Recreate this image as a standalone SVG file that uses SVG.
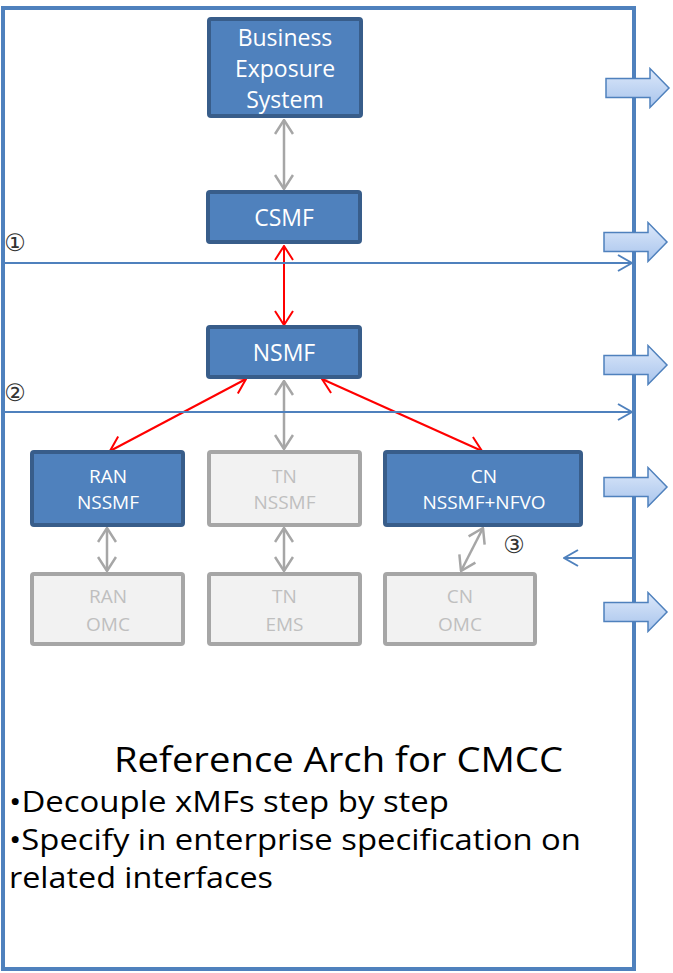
<svg xmlns="http://www.w3.org/2000/svg" width="673" height="973" viewBox="0 0 673 973">
<defs>
<style>
.blue{fill:#4f81bd;stroke:#385d8a;stroke-width:4}
.gray{fill:#f2f2f2;stroke:#a6a6a6;stroke-width:4}
.tw{fill:#ffffff;font-family:"Open Sans","Noto Sans",sans-serif;text-anchor:middle}
.tg{fill:#bfbfbf;font-family:"Open Sans","Noto Sans",sans-serif;text-anchor:middle}
.red{stroke:#ff0000;stroke-width:2;fill:none}
.gl{stroke:#a6a6a6;stroke-width:2.5;fill:none}
.bl{stroke:#4f81bd;stroke-width:2;fill:none}
.bt{fill:#000;font-family:"Open Sans","Noto Sans",sans-serif}
.num{fill:#333;font-family:"DejaVu Sans",sans-serif;font-size:24px;text-anchor:middle}
.barrow{fill:url(#bg);stroke:#4f81bd;stroke-width:1.5}
</style>
<linearGradient id="bg" x1="0" y1="0" x2="0" y2="1">
<stop offset="0" stop-color="#dce8fa"/>
<stop offset="1" stop-color="#a8c4ec"/>
</linearGradient>
<marker id="mr" viewBox="0 0 16 20" refX="15" refY="10" markerWidth="16" markerHeight="20" markerUnits="userSpaceOnUse" orient="auto-start-reverse">
<path d="M1,1 L15,10 L1,19" fill="none" stroke="#ff0000" stroke-width="2"/>
</marker>
<marker id="mg" viewBox="0 0 16 20" refX="15" refY="10" markerWidth="16" markerHeight="20" markerUnits="userSpaceOnUse" orient="auto-start-reverse">
<path d="M1,1 L15,10 L1,19" fill="none" stroke="#a6a6a6" stroke-width="2.5"/>
</marker>
<marker id="mb" viewBox="0 0 16 20" refX="15" refY="10" markerWidth="16" markerHeight="20" markerUnits="userSpaceOnUse" orient="auto">
<path d="M1,2 L15,10 L1,18" fill="none" stroke="#4f81bd" stroke-width="2"/>
</marker>
<path id="ba" d="M0,-9.5 L44,-9.5 L44,-19.5 L63,0 L44,19.5 L44,9.5 L0,9.5 Z"/>
</defs>
<rect x="0" y="0" width="673" height="973" fill="#ffffff"/>

<g id="frame">
<rect x="3" y="8" width="631" height="961" fill="none" stroke="#4f81bd" stroke-width="4"/>
</g>

<g id="connectors">
<line class="gl" x1="284" y1="120" x2="284" y2="189" marker-start="url(#mg)" marker-end="url(#mg)"/>
<line class="red" x1="284" y1="246" x2="284" y2="325" marker-start="url(#mr)" marker-end="url(#mr)"/>
<line class="red" x1="246" y1="379" x2="110" y2="451" marker-start="url(#mr)" marker-end="url(#mr)"/>
<line class="red" x1="322" y1="379" x2="482" y2="451" marker-start="url(#mr)" marker-end="url(#mr)"/>
<line class="gl" x1="284" y1="381" x2="284" y2="449" marker-start="url(#mg)" marker-end="url(#mg)"/>
<line class="gl" x1="107" y1="528" x2="107" y2="571" marker-start="url(#mg)" marker-end="url(#mg)"/>
<line class="gl" x1="284" y1="528" x2="284" y2="571" marker-start="url(#mg)" marker-end="url(#mg)"/>
<line class="gl" x1="483" y1="528" x2="461" y2="571" marker-start="url(#mg)" marker-end="url(#mg)"/>
<line class="bl" x1="3" y1="263" x2="632" y2="263" marker-end="url(#mb)"/>
<line class="bl" x1="3" y1="412" x2="632" y2="412" marker-end="url(#mb)"/>
<line class="bl" x1="634" y1="558" x2="564" y2="558" marker-end="url(#mb)"/>
</g>

<g id="labels">
<text class="num" x="15" y="251">①</text>
<text class="num" x="15" y="401">②</text>
<text class="num" x="514" y="553">③</text>
</g>

<g id="bes">
<rect class="blue" x="209" y="19" width="152" height="97" rx="2"/>
<text class="tw" font-size="23" x="285" y="46">Business</text>
<text class="tw" font-size="23" x="285" y="77">Exposure</text>
<text class="tw" font-size="23" x="285" y="108">System</text>
</g>
<g id="csmf">
<rect class="blue" x="208" y="192" width="152" height="50" rx="2"/>
<text class="tw" font-size="23" x="284" y="226">CSMF</text>
</g>
<g id="nsmf">
<rect class="blue" x="208" y="327" width="152" height="50" rx="2"/>
<text class="tw" font-size="23" x="284" y="361">NSMF</text>
</g>
<g id="ran-nssmf">
<rect class="blue" x="32" y="452" width="151" height="73" rx="2"/>
<text class="tw" font-size="19" x="108" y="483">RAN</text>
<text class="tw" font-size="19" x="108" y="509">NSSMF</text>
</g>
<g id="tn-nssmf">
<rect class="gray" x="209" y="452" width="151" height="73" rx="2"/>
<text class="tg" font-size="19" x="284.5" y="483">TN</text>
<text class="tg" font-size="19" x="284.5" y="509">NSSMF</text>
</g>
<g id="cn-nssmf">
<rect class="blue" x="385" y="452" width="196" height="73" rx="2"/>
<text class="tw" font-size="19" x="484" y="483">CN</text>
<text class="tw" font-size="19" x="484" y="509">NSSMF+NFVO</text>
</g>
<g id="ran-omc">
<rect class="gray" x="32" y="574" width="151" height="70" rx="2"/>
<text class="tg" font-size="19" x="108" y="603">RAN</text>
<text class="tg" font-size="19" x="108" y="631">OMC</text>
</g>
<g id="tn-ems">
<rect class="gray" x="209" y="574" width="151" height="70" rx="2"/>
<text class="tg" font-size="19" x="284.5" y="603">TN</text>
<text class="tg" font-size="19" x="284.5" y="631">EMS</text>
</g>
<g id="cn-omc">
<rect class="gray" x="385" y="574" width="150" height="70" rx="2"/>
<text class="tg" font-size="19" x="460" y="603">CN</text>
<text class="tg" font-size="19" x="460" y="631">OMC</text>
</g>

<g id="block-arrows">
<use href="#ba" class="barrow" x="606" y="88"/>
<use href="#ba" class="barrow" x="604" y="242"/>
<use href="#ba" class="barrow" x="604" y="365"/>
<use href="#ba" class="barrow" x="604" y="487"/>
<use href="#ba" class="barrow" x="604" y="612"/>
</g>

<g id="caption">
<text class="bt" font-size="34" x="114" y="772" textLength="449" lengthAdjust="spacingAndGlyphs">Reference Arch for CMCC</text>
<text class="bt" font-size="30" x="9" y="812" textLength="440" lengthAdjust="spacingAndGlyphs">•Decouple xMFs step by step</text>
<text class="bt" font-size="30" x="9" y="850" textLength="572" lengthAdjust="spacingAndGlyphs">•Specify in enterprise specification on</text>
<text class="bt" font-size="30" x="9" y="888" textLength="264" lengthAdjust="spacingAndGlyphs">related interfaces</text>
</g>
</svg>
